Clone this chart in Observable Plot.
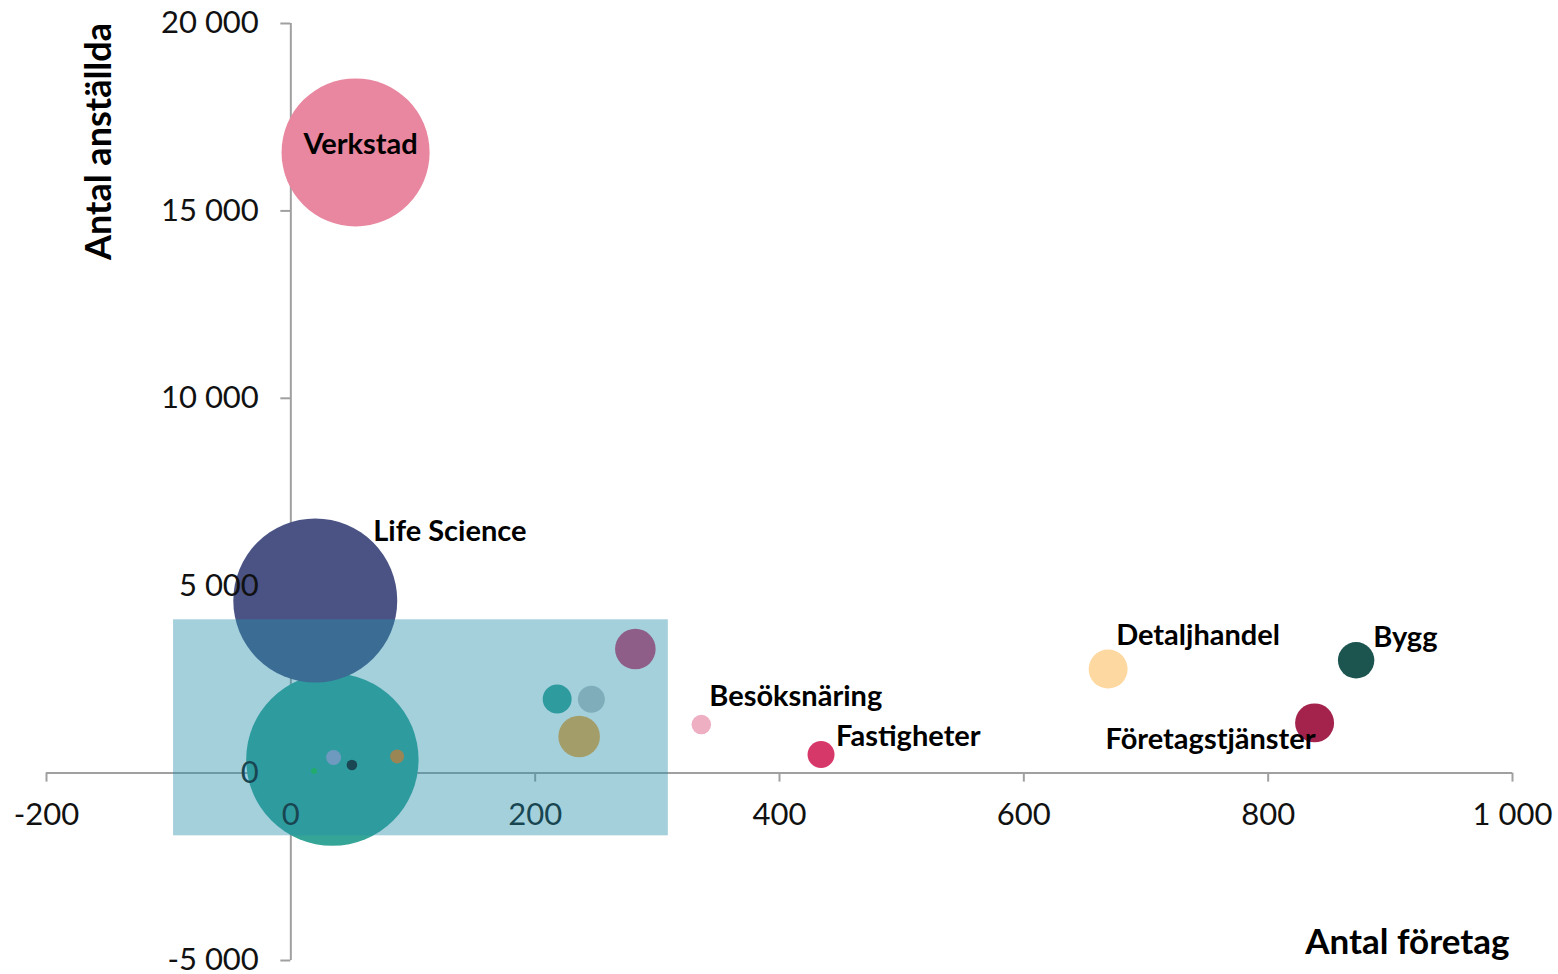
<!DOCTYPE html>
<html>
<head>
<meta charset="utf-8">
<script src="https://cdn.jsdelivr.net/npm/d3@7"></script>
<script src="https://cdn.jsdelivr.net/npm/@observablehq/plot@0.6"></script>
<style>
  html, body { margin: 0; padding: 0; background: #fff; }
  #chart svg { display: block; }
</style>
</head>
<body>
<div id="chart"></div>
<script>
// ---- Data ----
const sectors   = ["", "Life Science", "Verkstad", "", "", "", "", "Besöksnäring", "Fastigheter", "Detaljhandel", "Bygg", "Företagstjänster", "", "", "", ""];
const companies = [34, 20, 53, 282, 218, 246, 236, 336, 434, 669, 872, 838, 35, 50, 87, 19];
const employees = [360, 4605, 16560, 3310, 1975, 1970, 975, 1295, 495, 2775, 3010, 1340, 415, 215, 445, 55];
const bubbleSize = [7430, 6720, 5480, 412, 210, 182, 433, 96, 182, 380, 331, 380, 56, 28, 49, 9];

const xTicks = [-200, 0, 200, 400, 600, 800, 1000];
const yTicks = [-5000, 0, 5000, 10000, 15000, 20000];
const highlightX = [-96, 309];
const highlightY = [-1673, 4090];

// ---- Styles / layout (kept apart from the data) ----
const palette = ["#35a597", "#4a5384", "#e8879f", "#d93c6e", "#35a597", "#bfc4c4", "#fdaa3a", "#eeafc3",
                 "#d7386a", "#fdd8a0", "#1c5450", "#a3234c", "#a4a2cd", "#141418", "#ee8018", "#1fc040"];
const labelLayout = {
  "Verkstad":         {dx: 5,  dy: 2,   anchor: "middle"},
  "Life Science":     {dx: 58, dy: -60, anchor: "start"},
  "Besöksnäring":     {dx: 8,  dy: -19, anchor: "start"},
  "Fastigheter":      {dx: 15, dy: -9,  anchor: "start"},
  "Detaljhandel":     {dx: 8,  dy: -24, anchor: "start"},
  "Bygg":             {dx: 17, dy: -13, anchor: "start"},
  "Företagstjänster": {dx: 1,  dy: 26,  anchor: "end"}
};

const bubbles = sectors.map((name, i) => ({
  name, x: companies[i], y: employees[i], size: bubbleSize[i], color: palette[i]
}));
const labeled = bubbles.filter(d => d.name);

const fmt = d3.formatLocale({decimal: ",", thousands: " ", grouping: [3], minus: "-"}).format(",d");
const axisColor = "#a0a0a0";
const font = "Lato, 'Open Sans', sans-serif";

const chart = Plot.plot({
  width: 1558,
  height: 974,
  marginLeft: 46,
  marginRight: 46,
  marginTop: 23,
  marginBottom: 14,
  style: {fontFamily: font, background: "#fff", overflow: "visible"},
  x: {domain: [-200, 1000], axis: null},
  y: {domain: [-5000, 20000], axis: null},
  r: {domain: [0, d3.max(bubbleSize)], range: [0, 86.2]},
  color: {type: "identity"},
  marks: [
    // axis lines and ticks crossing at zero
    Plot.ruleY([0], {x1: -200, x2: 1000, stroke: axisColor, strokeWidth: 2}),
    Plot.ruleX([0], {y1: -5000, y2: 20000, stroke: axisColor, strokeWidth: 2}),
    Plot.ruleY(yTicks, {y: d => d, x1: 0, x2: 0, insetLeft: -10, stroke: axisColor, strokeWidth: 2}),
    Plot.ruleX(xTicks, {x: d => d, y1: 0, y2: 0, insetBottom: -9, stroke: axisColor, strokeWidth: 2}),
    // bubbles
    Plot.dot(bubbles, {x: "x", y: "y", r: "size", fill: "color", stroke: "none", sort: null}),
    // tick labels
    Plot.text(yTicks, {x: 0, y: d => d, text: d => fmt(d), dx: -32, dy: 0, textAnchor: "end",
      fontSize: 31, fill: "#111", fontFamily: font}),
    Plot.text(xTicks, {x: d => d, y: 0, text: d => fmt(d), dy: 42, textAnchor: "middle",
      fontSize: 31, fill: "#111", fontFamily: font}),
    // highlighted region
    Plot.rect([0], {x1: highlightX[0], x2: highlightX[1], y1: highlightY[0], y2: highlightY[1],
      fill: "#268fac", fillOpacity: 0.42}),
    // bubble labels
    ...labeled.map(d => {
      const L = labelLayout[d.name] || {dx: 10, dy: -10, anchor: "start"};
      return Plot.text([d], {x: "x", y: "y", text: "name", dx: L.dx, dy: L.dy, textAnchor: L.anchor,
        lineAnchor: "bottom", fontSize: 29, fontWeight: "bold", fill: "#000", fontFamily: font});
    }),
    // axis titles
    Plot.text(["Antal anställda"], {frameAnchor: "top-left", text: d => d, dx: 64, dy: 118, rotate: -90,
      textAnchor: "middle", lineAnchor: "bottom", fontSize: 36, fontWeight: "bold", fill: "#000", fontFamily: font}),
    Plot.text(["Antal företag"], {frameAnchor: "bottom-right", text: d => d, dx: -3, dy: -7,
      textAnchor: "end", lineAnchor: "bottom", fontSize: 35, fontWeight: "bold", fill: "#000", fontFamily: font})
  ]
});
document.getElementById("chart").append(chart);
</script>
</body>
</html>
